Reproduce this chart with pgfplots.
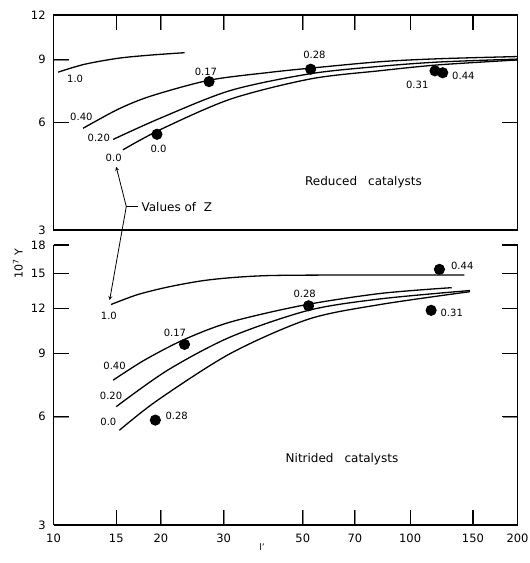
\documentclass[border=0pt]{standalone}
\usepackage{fontspec}
\setmainfont{DejaVu Sans}
\usepackage{pgfplots}
\pgfplotsset{compat=1.18}
\pgfplotsset{
 panelstyle/.style={
  scale only axis, width=464pt, xmin=10, xmax=200,
  xtick={10,15,20,30,50,70,100,150,200},
  xticklabels={10,15,20,30,50,70,100,150,200},
  major tick length=15pt, tick align=inside,
  every axis/.append style={line width=1.1pt},
  tick label style={font=\fontsize{11.5}{13}\selectfont},
  yticklabel style={xshift=-4pt},
  xticklabel style={yshift=-5pt},
  /pgf/number format/assume math mode=true,
  clip=false,
 },
 curve/.style={black, line width=1.3pt, smooth, no marks},
 pts/.style={only marks, mark=*, mark size=5pt, black},
 tk/.style={black, line width=1.1pt, mark=none, forget plot},
}
\tikzset{lab/.style={font=\fontsize{10}{12}\selectfont, inner sep=0pt}}
\begin{document}
\begin{tikzpicture}
\path[use as bounding box] (0pt,0pt) rectangle (530pt,563pt);
% ---------------- Top panel: reduced catalysts
\begin{axis}[xmode=log, ymode=log, panelstyle, at={(53.5pt,333pt)}, anchor=south west, height=215pt,
  ymin=3, ymax=12, ytick={3,6,9,12}, yticklabels={3,6,9,12},
  xtick pos=upper, xticklabels={}]
% tick marks
\addplot[tk] coordinates {(15,12) (15,10.9)};
\addplot[tk] coordinates {(20,12) (20,10.9)};
\addplot[tk] coordinates {(30,12) (30,10.9)};
\addplot[tk] coordinates {(50,12) (50,10.9)};
\addplot[tk] coordinates {(70,12) (70,10.9)};
\addplot[tk] coordinates {(100,12) (100,10.9)};
\addplot[tk] coordinates {(150,12) (150,10.9)};
\addplot[tk] coordinates {(10,6) (11.02,6)};
\addplot[tk] coordinates {(10,9) (11.02,9)};
\addplot[tk] coordinates {(200,6) (181.5,6)};
\addplot[tk] coordinates {(200,9) (181.5,9)};
% curves
\addplot[curve] coordinates {(10.3,8.30) (12.2,8.73) (15.2,9.08) (18.8,9.27) (23.3,9.41)};
\addplot[curve] coordinates {(12.1,5.78) (15.2,6.54) (18.8,7.12) (27.3,7.88) (40,8.28) (52.6,8.52) (82.5,8.88) (120,9.05) (200,9.18)};
\addplot[curve] coordinates {(14.7,5.38) (20,6.18) (31.4,7.38) (52.6,8.22) (82.5,8.62) (120,8.86) (200,9.03)};
\addplot[curve] coordinates {(15.65,5.03) (20,5.74) (31.4,6.98) (52.6,7.95) (82.5,8.38) (120,8.70) (200,8.98)};
\addplot[pts] coordinates {(19.5,5.56) (27.3,7.81) (52.6,8.46) (117.4,8.37) (123.4,8.27)};
\node[lab] at (axis cs:11.5,7.94) {1.0};
\node[lab] at (axis cs:11.97,6.22) {0.40};
\node[lab] at (axis cs:13.4,5.43) {0.20};
\node[lab] at (axis cs:14.75,4.78) {0.0};
\node[lab] at (axis cs:19.7,5.06) {0.0};
\node[lab] at (axis cs:26.75,8.30) {0.17};
\node[lab] at (axis cs:53.9,9.27) {0.28};
\node[lab] at (axis cs:104.7,7.66) {0.31};
\node[lab] at (axis cs:141,8.09) {0.44};
\node[font=\fontsize{12}{14}\selectfont] at (axis cs:74,4.08) {Reduced\hspace{0.6em} catalysts};
\draw[line width=0.8pt] (axis cs:16.0,3.49) -- (axis cs:17.27,3.49);
\draw[line width=0.8pt, -stealth] (axis cs:16.0,3.49) -- (axis cs:14.99,4.51);
\draw[line width=0.8pt, -stealth] (axis cs:16.0,3.49) -- (axis cs:14.37,1.91);
\node[anchor=west, font=\fontsize{12}{14}\selectfont, inner sep=0pt] at (axis cs:17.6,3.49) {Values of\ \ Z};
\end{axis}
% ---------------- Bottom panel: nitrided catalysts
\begin{axis}[xmode=log, ymode=log, panelstyle, at={(53.5pt,38pt)}, anchor=south west, height=280pt,
  ymin=3, ymax=18, ytick={3,6,9,12,15,18}, yticklabels={3,6,9,12,15,18},
  axis x line*=bottom, axis y line*=box, xtick pos=lower, ytick pos=both,
  x axis line style={-}, y axis line style={-}]
% tick marks
\addplot[tk] coordinates {(15,3) (15,3.3)};
\addplot[tk] coordinates {(20,3) (20,3.3)};
\addplot[tk] coordinates {(30,3) (30,3.3)};
\addplot[tk] coordinates {(50,3) (50,3.3)};
\addplot[tk] coordinates {(70,3) (70,3.3)};
\addplot[tk] coordinates {(100,3) (100,3.3)};
\addplot[tk] coordinates {(150,3) (150,3.3)};
\addplot[tk] coordinates {(10,6) (11.02,6)};
\addplot[tk] coordinates {(10,9) (11.02,9)};
\addplot[tk] coordinates {(10,12) (11.02,12)};
\addplot[tk] coordinates {(10,15) (11.02,15)};
\addplot[tk] coordinates {(10,18) (11.02,18)};
\addplot[tk] coordinates {(200,6) (181.5,6)};
\addplot[tk] coordinates {(200,9) (181.5,9)};
\addplot[tk] coordinates {(200,12) (181.5,12)};
\addplot[tk] coordinates {(200,15) (181.5,15)};
\addplot[tk] coordinates {(200,18) (181.5,18)};
% curves
\addplot[curve] coordinates {(14.5,12.3) (17.2,13.1) (20.9,13.75) (25.9,14.3) (31.4,14.6) (40,14.8) (60,14.85) (142,14.85)};
\addplot[curve] coordinates {(14.7,7.58) (18,8.62) (23.3,9.84) (31.4,11.0) (50.3,12.25) (82.5,13.2) (130.8,13.7)};
\addplot[curve] coordinates {(15.0,6.40) (20.9,8.08) (31.4,10.0) (51.9,11.85) (82.5,12.75) (147,13.45)};
\addplot[curve] coordinates {(15.3,5.5) (19.6,6.67) (31.4,9.0) (51.9,11.2) (82.5,12.3) (147,13.35)};
\addplot[pts] coordinates {(19.3,5.87) (23.3,9.53) (51.9,12.2) (120.8,15.4) (114.5,11.85)};
\node[lab] at (axis cs:14.3,11.41) {1.0};
\node[lab] at (axis cs:14.83,8.31) {0.40};
\node[lab] at (axis cs:14.5,6.85) {0.20};
\node[lab] at (axis cs:14.25,5.81) {0.0};
\node[lab] at (axis cs:22.15,6.03) {0.28};
\node[lab] at (axis cs:21.9,10.26) {0.17};
\node[lab] at (axis cs:50.6,13.2) {0.28};
\node[lab] at (axis cs:140,15.8) {0.44};
\node[lab] at (axis cs:130.8,11.63) {0.31};
\node[font=\fontsize{12}{14}\selectfont] at (axis cs:64.4,4.56) {Nitrided\hspace{0.6em} catalysts};
\end{axis}
\node[rotate=90, font=\fontsize{11}{13}\selectfont] at (18pt,299pt) {10\textsuperscript{7} Y};
\node[font=\fontsize{9}{10}\selectfont] at (262pt,16pt) {l'};
\end{tikzpicture}
\end{document}
